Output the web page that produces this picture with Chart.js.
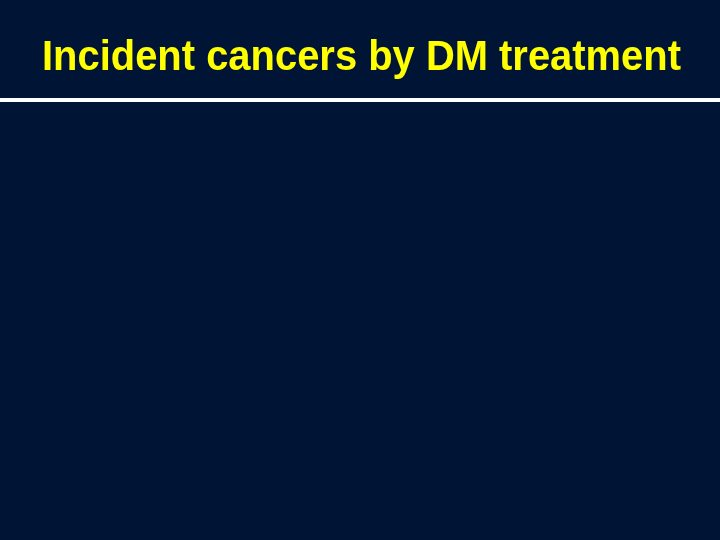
<!DOCTYPE html>
<html>
<head>
<meta charset="utf-8">
<script src="https://cdn.jsdelivr.net/npm/chart.js@4/dist/chart.umd.min.js"></script>
<style>
  html, body { margin: 0; padding: 0; background: #001435; }
  #wrap { width: 720px; height: 540px; }
</style>
</head>
<body>
<div id="wrap"><canvas id="slideChart"></canvas></div>
<script>
// The slide shows only its title; the plot area is empty
const titleText = 'Incident cancers by DM treatment';
const categories = [];
const cancerCounts = [];

// Draws the slide background, the yellow title and the white rule
const slideDecor = {
    id: 'slideDecor',
    beforeDraw(chart) {
        const ctx = chart.ctx;
        ctx.save();
        ctx.fillStyle = '#001435';
        ctx.fillRect(0, 0, chart.width, chart.height);
        ctx.restore();
    },
    afterDraw(chart) {
        const ctx = chart.ctx;
        ctx.save();
        ctx.font = 'bold 42px "Liberation Sans", Arial, sans-serif';
        ctx.fillStyle = '#ffff00';
        ctx.textBaseline = 'alphabetic';
        // squeeze the text to the narrow width of the original
        const w = ctx.measureText(titleText).width;
        const target = 639;
        ctx.translate(42, 70);
        ctx.scale(target / w, 1);
        ctx.fillText(titleText, 0, 0);
        ctx.restore();

        ctx.save();
        ctx.fillStyle = '#ffffff';
        ctx.fillRect(0, 98, chart.width, 4);
        ctx.restore();
    }
};

new Chart(document.getElementById('slideChart'), {
    type: 'bar',
    data: {
        labels: categories,
        datasets: [{
            label: 'Incident cancers',
            data: cancerCounts,
            backgroundColor: '#ffff00'
        }]
    },
    options: {
        responsive: true,
        maintainAspectRatio: false,
        animation: false,
        layout: { padding: { top: 110 } },
        plugins: {
            legend: { display: false },
            title: { display: false },
            tooltip: { enabled: false }
        },
        scales: {
            x: { display: false },
            y: { display: false }
        }
    },
    plugins: [slideDecor]
});
</script>
</body>
</html>
